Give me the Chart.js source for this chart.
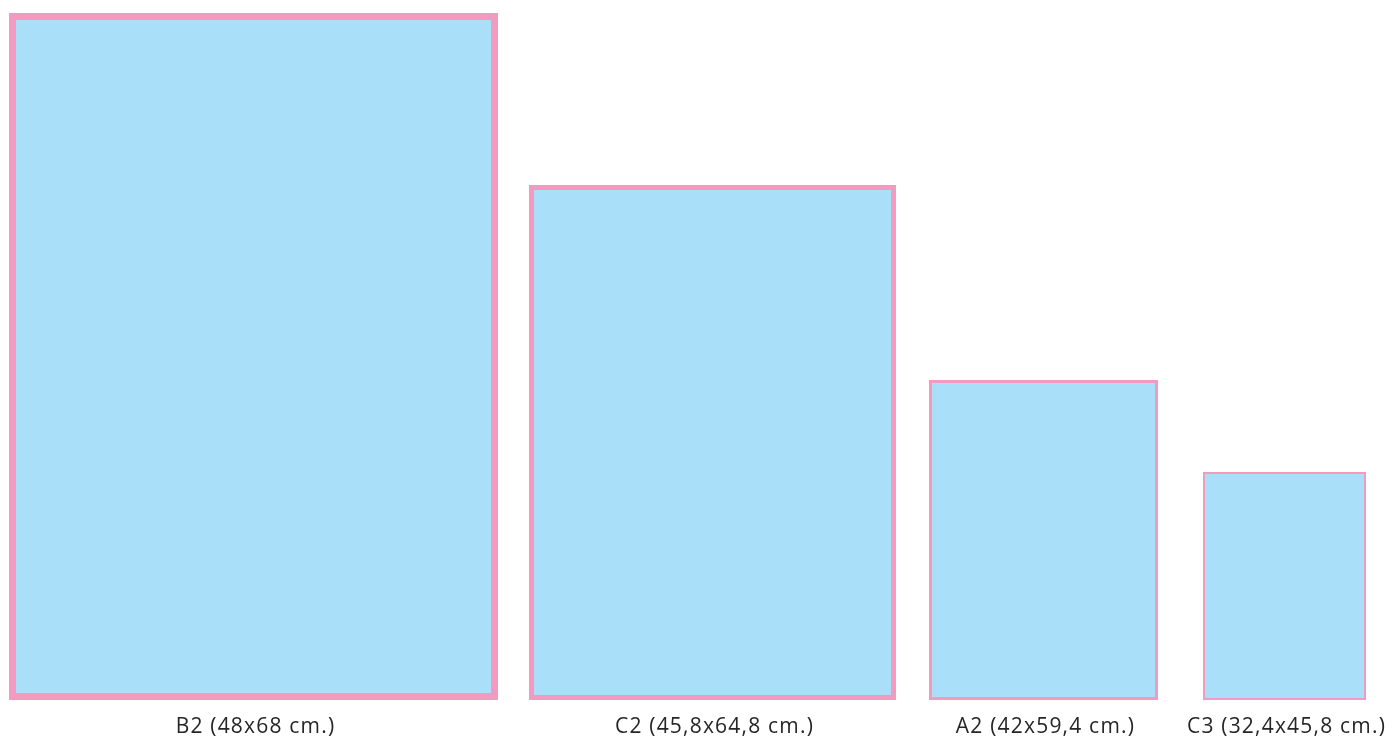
<!DOCTYPE html>
<html>
<head>
<meta charset="utf-8">
<script src="https://cdn.jsdelivr.net/npm/chart.js@4/dist/chart.umd.min.js"></script>
<style>
    body { margin: 0; background: #fff; }
    #wrap { width: 1399px; height: 739px; position: relative; }
</style>
</head>
<body>
<div id="wrap"><canvas id="formatChart"></canvas></div>
<script>
// Poster formats, drawn as rectangles on a 0..1399 x 0..700 sheet
const formatLabels = ['B2 (48x68 cm.)', 'C2 (45,8x64,8 cm.)', 'A2 (42x59,4 cm.)', 'C3 (32,4x45,8 cm.)'];
const leftEdges = [9, 529, 929, 1203];
const rightEdges = [498, 896, 1158, 1366];
const heights = [687, 515, 320, 228];

const borderWidths = [7, 5, 3, 2];
const PINK = '#f49ac1';
const BLUE = '#a9dff9';

const centers = leftEdges.map((l, i) => (l + rightEdges[i]) / 2);

// closed rectangle path, inset by half the stroke so the border sits inside
function rectPath(i) {
    const h = borderWidths[i] / 2;
    const x0 = leftEdges[i] + h, x1 = rightEdges[i] - h;
    const y0 = h, y1 = heights[i] - h;
    return [
        { x: x0, y: y0 }, { x: x0, y: y1 }, { x: x1, y: y1 },
        { x: x1, y: y0 }, { x: x0, y: y0 }, { x: x0, y: y1 }
    ];
}

const datasets = formatLabels.map((name, i) => ({
    label: name,
    data: rectPath(i),
    borderColor: PINK,
    backgroundColor: BLUE,
    borderWidth: borderWidths[i],
    borderJoinStyle: 'miter',
    borderCapStyle: 'square',
    fill: 'shape',
    tension: 0,
    pointRadius: 0,
    pointHoverRadius: 0
}));

// the caption font in the original runs a bit wider than Open Sans
const spacing = {
    id: 'spacing',
    beforeDraw: (chart) => { chart.ctx.letterSpacing = '1.2px'; }
};

new Chart(document.getElementById('formatChart').getContext('2d'), {
    type: 'line',
    data: { datasets: datasets },
    plugins: [spacing],
    options: {
        responsive: true,
        maintainAspectRatio: false,
        animation: false,
        events: [],
        layout: { padding: 0 },
        plugins: {
            legend: { display: false },
            tooltip: { enabled: false }
        },
        scales: {
            x: {
                type: 'linear',
                min: 0,
                max: 1399,
                grid: { display: false, drawTicks: false },
                border: { display: false },
                afterBuildTicks: (scale) => {
                    scale.ticks = centers.map(v => ({ value: v }));
                },
                afterFit: (scale) => { scale.height = 39; },
                ticks: {
                    autoSkip: false,
                    maxRotation: 0,
                    padding: 14,
                    labelOffset: 2,
                    color: '#262626',
                    font: { family: 'Open Sans', size: 21 },
                    callback: (value, index) => formatLabels[index]
                }
            },
            y: {
                display: false,
                min: 0,
                max: 700
            }
        }
    }
});
</script>
</body>
</html>
